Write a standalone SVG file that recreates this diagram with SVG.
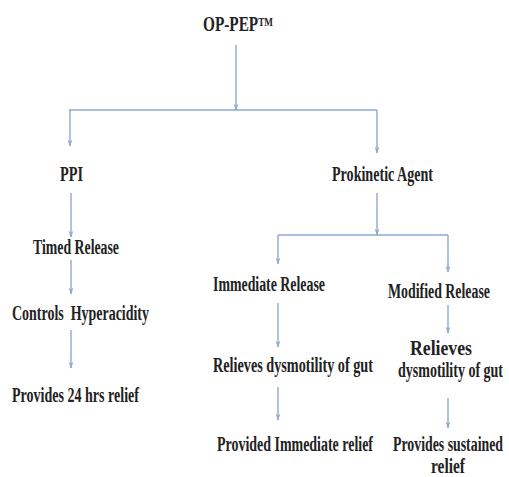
<svg xmlns="http://www.w3.org/2000/svg" width="509" height="477" viewBox="0 0 509 477">
<style>
.t{font-family:"Liberation Serif","Times New Roman",serif;font-weight:bold;font-size:20px;fill:#222}
.c{stroke:#8ea8d2;stroke-width:1.4;fill:none}
</style>
<defs>
<marker id="ah" viewBox="0 0 10 10" refX="9" refY="5" markerWidth="7" markerHeight="6" orient="auto" markerUnits="userSpaceOnUse" preserveAspectRatio="none">
<path d="M0,1 L10,5 L0,9 L3,5 z" fill="#8ea8d2"/>
</marker>
</defs>
<rect width="509" height="477" fill="#fff"/>
<g id="connectors">
<line class="c" x1="236" y1="45" x2="236" y2="110" marker-end="url(#ah)"/>
<line class="c" x1="69" y1="110" x2="377" y2="110"/>
<line class="c" x1="70" y1="110" x2="70" y2="146" marker-end="url(#ah)"/>
<line class="c" x1="377" y1="110" x2="377" y2="153" marker-end="url(#ah)"/>
<line class="c" x1="71" y1="193" x2="71" y2="237" marker-end="url(#ah)"/>
<line class="c" x1="377" y1="193" x2="377" y2="235" marker-end="url(#ah)"/>
<line class="c" x1="278" y1="235" x2="448" y2="235"/>
<line class="c" x1="278" y1="235" x2="278" y2="264" marker-end="url(#ah)"/>
<line class="c" x1="448" y1="235" x2="448" y2="272" marker-end="url(#ah)"/>
<line class="c" x1="71" y1="260" x2="71" y2="294" marker-end="url(#ah)"/>
<line class="c" x1="71" y1="330" x2="71" y2="368" marker-end="url(#ah)"/>
<line class="c" x1="278" y1="303" x2="278" y2="347" marker-end="url(#ah)"/>
<line class="c" x1="448" y1="305" x2="448" y2="333" marker-end="url(#ah)"/>
<line class="c" x1="278" y1="387" x2="278" y2="420" marker-end="url(#ah)"/>
<line class="c" x1="448" y1="398" x2="448" y2="428" marker-end="url(#ah)"/>
</g>
<g id="op-pep">
<text class="t" x="203" y="31" textLength="70" lengthAdjust="spacingAndGlyphs">OP-PEP<tspan style="font-size:12px" dy="-5">TM</tspan></text>
</g>
<g id="ppi"><text class="t" x="60" y="181" textLength="23" lengthAdjust="spacingAndGlyphs">PPI</text></g>
<g id="prokinetic"><text class="t" x="332" y="181" textLength="101" lengthAdjust="spacingAndGlyphs">Prokinetic Agent</text></g>
<g id="timed-release"><text class="t" x="33" y="254" textLength="86" lengthAdjust="spacingAndGlyphs">Timed Release</text></g>
<g id="controls"><text class="t" x="12" y="320" xml:space="preserve" textLength="137" lengthAdjust="spacingAndGlyphs">Controls  Hyperacidity</text></g>
<g id="provides-24"><text class="t" x="12" y="402" textLength="127" lengthAdjust="spacingAndGlyphs">Provides 24 hrs relief</text></g>
<g id="immediate-release"><text class="t" x="213" y="291" textLength="112" lengthAdjust="spacingAndGlyphs">Immediate Release</text></g>
<g id="modified-release"><text class="t" x="388" y="298" textLength="102" lengthAdjust="spacingAndGlyphs">Modified Release</text></g>
<g id="relieves-left"><text class="t" x="213" y="372" textLength="160" lengthAdjust="spacingAndGlyphs">Relieves dysmotility of gut</text></g>
<g id="relieves-right">
<text class="t" x="410" y="355" textLength="62" lengthAdjust="spacingAndGlyphs">Relieves</text>
<text class="t" x="398" y="377" textLength="105" lengthAdjust="spacingAndGlyphs">dysmotility of gut</text>
</g>
<g id="immediate-relief"><text class="t" x="217" y="451" textLength="156" lengthAdjust="spacingAndGlyphs">Provided Immediate relief</text></g>
<g id="sustained-relief">
<text class="t" x="393" y="451" textLength="110" lengthAdjust="spacingAndGlyphs">Provides sustained</text>
<text class="t" x="431" y="473" textLength="34" lengthAdjust="spacingAndGlyphs">relief</text>
</g>
</svg>
